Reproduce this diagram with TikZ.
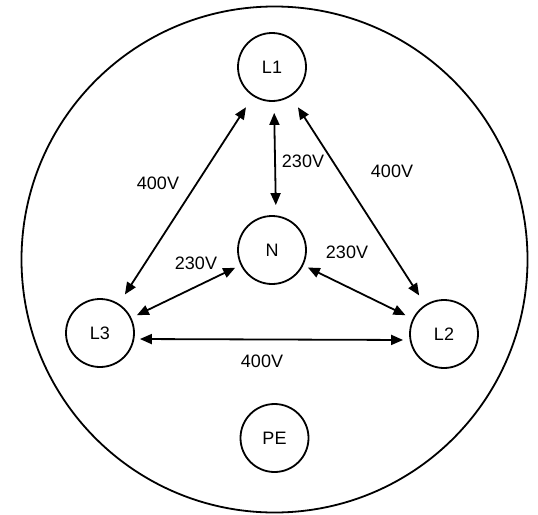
\documentclass[tikz,border=0pt]{standalone}
\usepackage{fontspec}
\setmainfont{Liberation Sans}
\usetikzlibrary{arrows.meta}
\begin{document}
\begin{tikzpicture}[x=1pt,y=-1pt,
  term/.style={circle,draw,line width=1.8pt,minimum size=68pt,inner sep=0pt,font=\fontsize{18}{20}\selectfont},
  volt/.style={font=\fontsize{18}{20}\selectfont,inner sep=0pt},
  dbl/.style={{Triangle[length=12pt,width=10pt]}-{Triangle[length=12pt,width=10pt]},line width=1.8pt}]
\useasboundingbox (0,0) rectangle (538,514);
\node[circle,draw,line width=1.8pt,minimum size=506pt,inner sep=0pt] (outer) at (274.5,259.5) {};
\node[term] (L1) at (272,67) {L1};
\node[term] (N) at (272,250) {N};
\node[term] (L3) at (100,333) {L3};
\node[term] (L2) at (444,334) {L2};
\node[term] (PE) at (274.5,438) {PE};
\draw[dbl, shorten <=13pt, shorten >=11pt] (L1) -- (L3);
\draw[dbl, shorten <=13pt, shorten >=11pt] (L1) -- (L2);
\draw[dbl, shorten <=11pt, shorten >=10pt] ([xshift=2pt]L1.south) -- ([xshift=4pt]N.north);
\draw[dbl, shorten <=6pt, shorten >=6pt] (N) -- (L3);
\draw[dbl, shorten <=5pt, shorten >=8pt] (N) -- (L2);
\draw[dbl, shorten <=5pt, shorten >=6pt] ([yshift=-6pt]L3.east) -- ([yshift=-6pt]L2.west);
\node[volt] (v13) at (158,183) {400V};
\node[volt] (v1n) at (303,161) {230V};
\node[volt] (v12) at (392,171) {400V};
\node[volt] (v3n) at (196,263) {230V};
\node[volt] (v2n) at (347,252) {230V};
\node[volt] (v32) at (262,361) {400V};
\end{tikzpicture}
\end{document}
